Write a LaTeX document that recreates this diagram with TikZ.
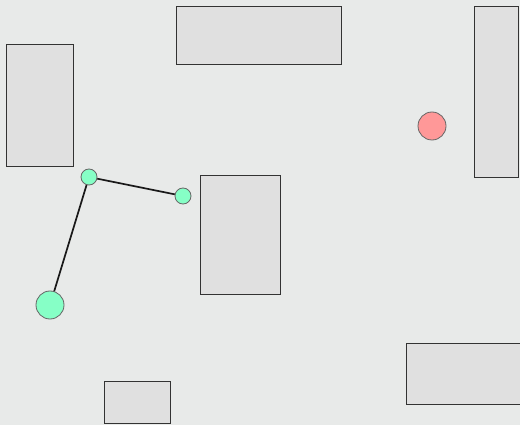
\documentclass[tikz,border=0pt]{standalone}
\begin{document}
\begin{tikzpicture}[x=1pt,y=-1pt,
  box/.style={draw=black!80,line width=1pt,fill=black!12},
  blob/.style={circle,draw=black!60,line width=0.8pt,inner sep=0pt},
  agent/.style={blob,fill=aquamarine},
  link/.style={draw=black!90,line width=1.7pt}]
\definecolor{bg}{HTML}{E8EAE9}
\definecolor{aquamarine}{HTML}{86FFC6}
\definecolor{goal}{HTML}{FF9898}
\fill[bg] (0,0) rectangle (520,425);
\useasboundingbox (0,0) rectangle (520,425);
\draw[box] (6,45) rectangle (73,167);
\draw[box] (176,7) rectangle (341,65);
\draw[box] (474,7) rectangle (518,178);
\draw[box] (200,176) rectangle (280,294);
\draw[box] (406,343) rectangle (530,404);
\draw[box] (104,381) rectangle (170,423);
\node[blob,fill=goal,minimum size=28pt] (g) at (432,126) {};
\node[agent,minimum size=16pt] (j1) at (89,177) {};
\node[agent,minimum size=16pt] (j2) at (183,196) {};
\node[agent,minimum size=28pt] (base) at (50,305) {};
\draw[link] (j1) -- (j2);
\draw[link] (j1) -- (base);
\end{tikzpicture}
\end{document}
